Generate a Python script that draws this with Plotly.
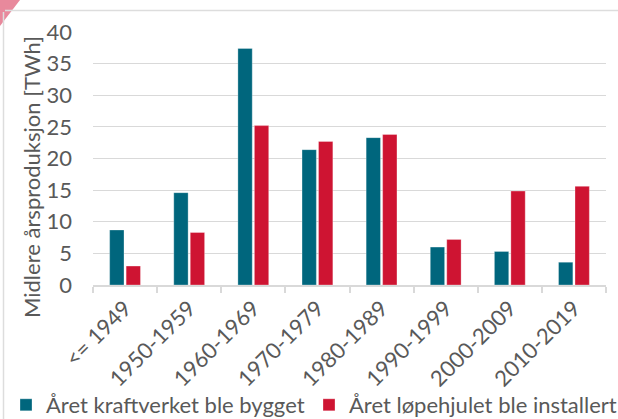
import plotly.graph_objects as go

categories = ["&lt;= 1949", "1950-1959", "1960-1969", "1970-1979", "1980-1989",
              "1990-1999", "2000-2009", "2010-2019"]
built = [8.7, 14.6, 37.4, 21.4, 23.3, 6.0, 5.3, 3.6]
installed = [3.0, 8.3, 25.2, 22.7, 23.8, 7.2, 14.85, 15.6]
series_names = ["Året kraftverket ble bygget", "Året løpehjulet ble installert"]
y_title = "Midlere årsproduksjon [TWh]"
y_ticks = [0, 5, 10, 15, 20, 25, 30, 35, 40]

W, H = 618, 419
L, R, T, B = 93, 12, 32, 134
pw, ph = W - L - R, H - T - B

def px_x(x):
    return (x - L) / pw

def px_y(y):
    return (H - B - y) / ph

FONT = "Lato"
GREY = "#595959"
BLUE = "#00667D"
RED = "#CE1432"
GRID = "#D9D9D9"

fig = go.Figure()
fig.add_trace(go.Bar(x=categories, y=built, name=series_names[0], legend="legend",
                     marker=dict(color=BLUE, line=dict(color="rgba(255,255,255,0.5)", width=0.6))))
fig.add_trace(go.Bar(x=categories, y=installed, name=series_names[1], legend="legend2",
                     marker=dict(color=RED, line=dict(color="rgba(255,255,255,0.5)", width=0.6))))

legend_common = dict(orientation="h", xanchor="left", yanchor="middle", y=px_y(405),
                     font=dict(size=22, color=GREY), bgcolor="rgba(0,0,0,0)", itemclick=False)

fig.update_layout(
    width=W, height=H,
    margin=dict(l=L, r=R, t=T, b=B, pad=0, autoexpand=False),
    paper_bgcolor="white", plot_bgcolor="white",
    font=dict(family=FONT, size=22, color=GREY),
    barmode="group", bargap=0.486, bargroupgap=0.13,
    showlegend=True,
    legend=dict(x=px_x(6), **legend_common),
    legend2=dict(x=px_x(309), **legend_common),
    xaxis=dict(showline=True, linecolor=GRID, linewidth=1.5, ticks="outside", tickson="boundaries",
               ticklen=6, tickcolor=GRID, tickwidth=1.5, tickangle=-45, showgrid=False,
               tickfont=dict(size=22, color=GREY), automargin=False),
    yaxis=dict(range=[0, 40], tickvals=y_ticks, showgrid=True, gridcolor=GRID, gridwidth=1.3,
               zeroline=False, showline=False, ticks="", ticklabelstandoff=20,
               tickfont=dict(size=22, color=GREY), automargin=False),
    annotations=[dict(text=y_title, textangle=-90, xref="paper", yref="paper",
                      x=px_x(31), y=px_y(177), xanchor="center", yanchor="middle",
                      showarrow=False, font=dict(size=22, color=GREY))],
    shapes=[
        dict(type="path", xref="paper", yref="paper",
             path=f"M {px_x(0)} {px_y(0)} L {px_x(20)} {px_y(0)} L {px_x(0)} {px_y(26)} Z",
             fillcolor="#E8899C", line=dict(width=0), layer="above"),
        dict(type="line", xref="paper", yref="paper", x0=px_x(5), x1=px_x(618),
             y0=px_y(10.5), y1=px_y(10.5), line=dict(color="#DDDDDD", width=1.5)),
        dict(type="line", xref="paper", yref="paper", x0=px_x(3.5), x1=px_x(3.5),
             y0=px_y(12), y1=px_y(419), line=dict(color="#DDDDDD", width=1.5)),
    ],
)

fig.write_html("out.html", config={"displayModeBar": False},
               post_script="document.body.style.margin='0px';")
